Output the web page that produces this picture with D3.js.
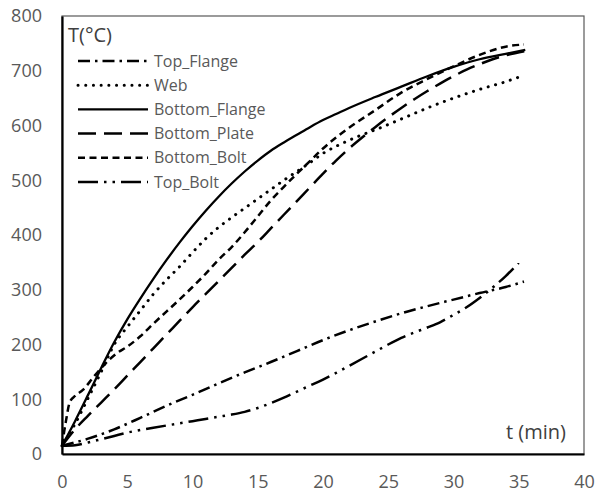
<!DOCTYPE html>
<html>
<head>
<meta charset="utf-8">
<script src="https://cdn.jsdelivr.net/npm/d3@7"></script>
<style>
  body { margin: 0; background: #fff; }
  #chart { width: 596px; height: 498px; }
  text { font-family: "Open Sans", sans-serif; }
</style>
</head>
<body>
<div id="chart"></div>
<script>
// values (t in min, T in °C)
var xTicks = [0, 5, 10, 15, 20, 25, 30, 35, 40];
var yTicks = [0, 100, 200, 300, 400, 500, 600, 700, 800];

var topFlange = [[0,15],[2,28],[4,45],[6,66],[8,88],[10,108],[12,129],[14,149],[16,168],[18,188],[20,208],[22,226],[24,242],[26,257],[28,270],[30,282],[32,294],[34,305],[35.4,315]];
var web = [[0,15],[1,55],[2,102],[3,150],[4,200],[5,232],[6,262],[7,292],[8,318],[9,342],[10,368],[11,393],[12,414],[13,432],[14,449],[15,466],[16,483],[17,500],[18,516],[19,532],[20,549],[21,562],[22,573],[23,583],[24,592],[26,612],[28,632],[30,650],[32,666],[34,680],[35.2,690]];
var bottomFlange = [[0,15],[1,60],[2,108],[3,157],[4,204],[5,246],[6,284],[7,320],[8,354],[9,386],[10,416],[11,444],[12,470],[13,494],[14,516],[15,536],[16,554],[17,569],[18,583],[19,597],[20,610],[21,621],[22,632],[24,652],[26,671],[28,690],[30,707],[32,721],[34,731],[35.5,738]];
var bottomPlate = [[0,15],[1,45],[2,70],[3,94],[4,118],[5,143],[6,168],[7,193],[8,218],[9,243],[10,268],[11,292],[12,316],[13,340],[14,364],[15,387],[16,412],[17,437],[18,462],[19,487],[20,512],[21,536],[22,558],[23,578],[24,597],[25,615],[26,632],[27,648],[28,663],[29,677],[30,690],[31,702],[32,712],[33,721],[34,728],[35.5,736]];
var bottomBolt = [[0,15],[0.3,60],[0.6,95],[1,106],[1.6,117],[2.4,140],[3.2,162],[4.2,184],[5,196],[6,215],[7,238],[8,260],[9,282],[10,305],[11,329],[12,355],[13,378],[14,405],[15,434],[16,463],[17,488],[18,512],[19,535],[20,558],[21,578],[22,596],[24,628],[26,660],[28,685],[30,708],[32,729],[34,744],[35.4,748]];
var topBolt = [[0,15],[1,16],[2,21],[3,27],[4,33],[5,39],[6,44],[7,48],[8,52],[9,56],[10,60],[11,64],[12,68],[13,72],[14,77],[15,84],[16,93],[17,103],[18,114],[19,125],[20,136],[21,148],[22,161],[23,174],[24,187],[25,200],[26,212],[27,222],[28,231],[29,241],[30,254],[31,268],[32,285],[33,304],[34,325],[35,349]];

var seriesNames = ["Top_Flange", "Web", "Bottom_Flange", "Bottom_Plate", "Bottom_Bolt", "Top_Bolt"];
var seriesData = [topFlange, web, bottomFlange, bottomPlate, bottomBolt, topBolt];
var dashes = ["12,5,2.5,5", "0.1,7.6", null, "18,8", "7,4.5", "20,6,2.5,6,2.5,6"];
var caps = ["butt", "round", "butt", "butt", "butt", "butt"];
var widths = [2.5, 3, 2.3, 2.5, 2.5, 2.5];

var margin = {top: 16, right: 12, bottom: 44, left: 62},
    width = 596 - margin.left - margin.right,
    height = 498 - margin.top - margin.bottom;

var x = d3.scaleLinear().domain([0, 40]).range([0, width]);
var y = d3.scaleLinear().domain([0, 800]).range([height, 0]);

var svg = d3.select("#chart").append("svg")
    .attr("width", 596)
    .attr("height", 498)
  .append("g")
    .attr("transform", "translate(" + margin.left + "," + margin.top + ")");

// frame: thin grey top/right, black axes left/bottom
svg.append("rect")
    .attr("x", 0).attr("y", 0)
    .attr("width", width).attr("height", height)
    .attr("fill", "none")
    .attr("stroke", "#595959")
    .attr("stroke-width", 1.2);

var xAxis = svg.append("g")
    .attr("transform", "translate(0," + height + ")")
    .call(d3.axisBottom(x).tickValues(xTicks).tickSize(0).tickPadding(21));
var yAxis = svg.append("g")
    .call(d3.axisLeft(y).tickValues(yTicks).tickSize(0).tickPadding(20));

[xAxis, yAxis].forEach(function(a) {
  a.select(".domain").attr("stroke", "#000").attr("stroke-width", 2.2);
  a.selectAll("text")
    .attr("fill", "#595959")
    .style("font-size", "18px")
    .style("font-family", "'Open Sans', sans-serif");
});

var line = d3.line()
    .x(function(d) { return x(d[0]); })
    .y(function(d) { return y(d[1]); })
    .curve(d3.curveMonotoneX);

seriesData.forEach(function(s, i) {
  svg.append("path")
    .datum(s)
    .attr("d", line)
    .attr("fill", "none")
    .attr("stroke", "#000")
    .attr("stroke-width", widths[i])
    .attr("stroke-linecap", caps[i])
    .attr("stroke-dasharray", dashes[i]);
});

// legend
var legend = svg.append("g").attr("transform", "translate(16,45)");
seriesNames.forEach(function(n, i) {
  var g = legend.append("g").attr("transform", "translate(0," + (i * 24.2) + ")");
  g.append("line")
    .attr("x1", 0).attr("x2", 70)
    .attr("y1", 0).attr("y2", 0)
    .attr("stroke", "#000")
    .attr("stroke-width", widths[i])
    .attr("stroke-linecap", caps[i])
    .attr("stroke-dasharray", dashes[i]);
  g.append("text")
    .attr("x", 76).attr("y", 0)
    .attr("dy", "0.35em")
    .attr("fill", "#595959")
    .style("font-size", "16px")
    .text(n);
});

svg.append("text")
    .attr("x", 6).attr("y", 26)
    .attr("fill", "#404040")
    .style("font-size", "20px")
    .text("T(°C)");

svg.append("text")
    .attr("x", width - 18).attr("y", 423)
    .attr("text-anchor", "end")
    .attr("fill", "#404040")
    .style("font-size", "20px")
    .text("t (min)");
</script>
</body>
</html>
